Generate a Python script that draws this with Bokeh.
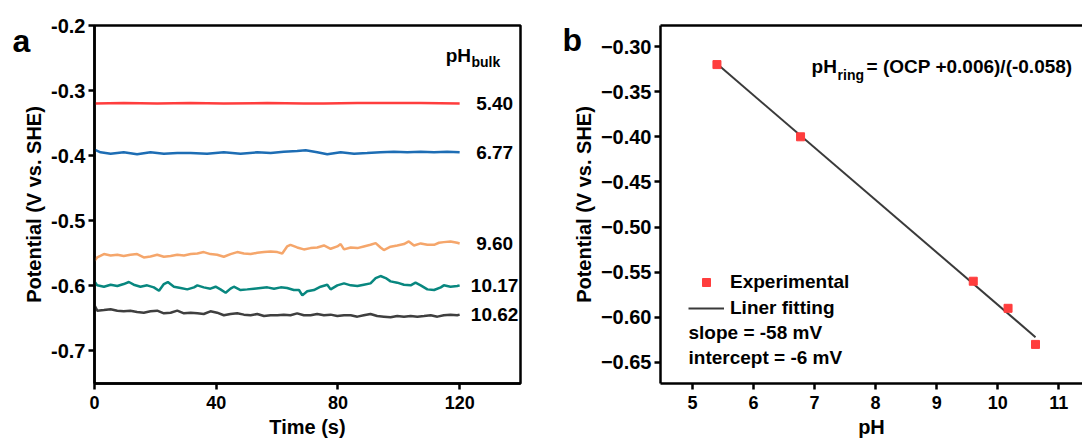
from bokeh.plotting import figure
from bokeh.models import (LinearAxis, FixedTicker, Label, Legend, LegendItem,
                          ColumnDataSource, CustomJSTickFormatter)
from bokeh.layouts import row
from bokeh.core.properties import value
from bokeh.embed import file_html
from bokeh.resources import INLINE

FONT = "Liberation Sans"

# ---------------- Panel a data: OCP vs time ----------------
t_540 = [0.0, 9.6, 20.6, 31.6, 42.5, 56.8, 68.8, 75.4, 86.4, 97.3, 107.2, 120.0]
v_540 = [-0.320, -0.319, -0.320, -0.319, -0.320, -0.319, -0.320, -0.320, -0.319, -0.319, -0.319, -0.320]

t_677 = [0.0, 2.0, 5.3, 9.6, 14.0, 18.4, 22.8, 27.2, 31.6, 37.0, 42.5, 48.0, 53.5, 57.9,
         62.2, 66.6, 69.4, 73.2, 76.5, 80.9, 85.3, 89.6, 94.0, 98.4, 102.8, 107.2, 111.6, 115.9, 120.0]
v_677 = [-0.3907, -0.3948, -0.3969, -0.3948, -0.3979, -0.3948, -0.3969, -0.3959, -0.3959, -0.3969,
         -0.3948, -0.3969, -0.3948, -0.3959, -0.3938, -0.3928, -0.3918, -0.3948, -0.3979, -0.3948,
         -0.3969, -0.3959, -0.3948, -0.3938, -0.3948, -0.3938, -0.3948, -0.3938, -0.3948]

t_960 = [0.0, 0.9, 3.1, 5.3, 7.5, 9.6, 11.8, 14.0, 16.2, 18.4, 20.6, 22.8, 25.0, 27.2, 29.4, 31.6,
         33.8, 35.9, 38.1, 40.3, 42.5, 44.7, 46.9, 49.1, 51.3, 53.5, 55.7, 57.9, 60.1, 61.7, 63.3,
         64.4, 66.6, 68.8, 71.0, 73.2, 75.4, 77.6, 79.8, 80.9, 82.0, 84.2, 86.4, 88.5, 90.7, 92.4,
         94.0, 95.1, 97.3, 99.5, 101.7, 103.3, 105.0, 107.2, 109.4, 111.6, 113.2, 114.8, 117.0,
         119.2, 120.0]
v_960 = [-0.5614, -0.5563, -0.5512, -0.5532, -0.5522, -0.5542, -0.5522, -0.5512, -0.5563, -0.5548,
         -0.5522, -0.5553, -0.5542, -0.5522, -0.5532, -0.5512, -0.5502, -0.5481, -0.5512, -0.5522,
         -0.5553, -0.5512, -0.5481, -0.5502, -0.5512, -0.5491, -0.5481, -0.5471, -0.5481, -0.5502,
         -0.5394, -0.5369, -0.5410, -0.5440, -0.5420, -0.5410, -0.5379, -0.5430, -0.5394, -0.5358,
         -0.5440, -0.5410, -0.5420, -0.5394, -0.5369, -0.5343, -0.5410, -0.5450, -0.5399, -0.5379,
         -0.5358, -0.5317, -0.5379, -0.5348, -0.5369, -0.5369, -0.5338, -0.5328, -0.5317, -0.5338,
         -0.5348]

t_1017 = [0.0, 0.9, 3.1, 5.3, 7.5, 9.6, 11.3, 12.9, 15.1, 17.3, 19.5, 21.2, 22.8, 24.1, 26.1, 28.3,
          30.5, 32.7, 33.8, 35.9, 38.1, 39.8, 41.4, 43.1, 44.7, 45.8, 48.0, 50.2, 52.4, 54.6, 56.8,
          59.0, 61.2, 63.3, 65.5, 67.2, 68.3, 69.9, 72.1, 74.3, 76.5, 77.6, 79.8, 82.0, 84.2, 86.4,
          88.5, 90.7, 92.4, 94.0, 95.7, 97.3, 99.5, 101.7, 103.9, 105.5, 107.2, 109.4, 111.6, 113.8,
          114.8, 117.0, 119.2, 120.0]
v_1017 = [-0.5931, -0.5992, -0.6013, -0.5982, -0.6003, -0.5972, -0.5941, -0.5982, -0.6013, -0.5992,
          -0.6023, -0.6074, -0.5972, -0.5941, -0.6013, -0.6033, -0.6054, -0.6023, -0.5992, -0.6023,
          -0.6043, -0.6013, -0.6054, -0.6105, -0.6043, -0.6013, -0.6064, -0.6054, -0.6043, -0.6033,
          -0.6023, -0.6043, -0.6023, -0.6033, -0.6064, -0.6064, -0.6146, -0.6084, -0.6064, -0.6013,
          -0.5982, -0.6054, -0.5992, -0.5962, -0.5992, -0.6003, -0.5982, -0.5962, -0.5880, -0.5849,
          -0.5880, -0.5931, -0.5951, -0.5982, -0.5992, -0.5951, -0.5992, -0.6054, -0.6064, -0.6023,
          -0.5992, -0.6013, -0.6003, -0.5992]

t_1062 = [0.0, 0.9, 3.1, 5.3, 7.5, 9.6, 11.8, 14.0, 16.2, 18.4, 20.6, 22.8, 25.0, 27.2, 29.4, 31.6,
          33.8, 35.9, 38.1, 40.3, 42.5, 44.7, 46.9, 49.1, 51.3, 53.5, 55.7, 57.9, 60.1, 62.2, 64.4,
          66.6, 68.8, 71.0, 73.2, 75.4, 77.6, 79.8, 82.0, 84.2, 86.4, 88.5, 90.7, 92.9, 95.1, 97.3,
          99.5, 101.7, 103.9, 106.1, 108.3, 110.5, 112.7, 114.8, 117.0, 119.2, 120.0]
v_1062 = [-0.6299, -0.6381, -0.6371, -0.6360, -0.6381, -0.6391, -0.6381, -0.6401, -0.6412, -0.6391,
          -0.6381, -0.6422, -0.6412, -0.6381, -0.6422, -0.6412, -0.6422, -0.6432, -0.6391, -0.6412,
          -0.6452, -0.6432, -0.6422, -0.6442, -0.6452, -0.6432, -0.6463, -0.6452, -0.6452, -0.6442,
          -0.6452, -0.6422, -0.6452, -0.6452, -0.6432, -0.6452, -0.6442, -0.6463, -0.6452, -0.6452,
          -0.6473, -0.6452, -0.6432, -0.6463, -0.6473, -0.6483, -0.6463, -0.6473, -0.6463, -0.6473,
          -0.6463, -0.6452, -0.6473, -0.6452, -0.6442, -0.6452, -0.6442]

ph_bulk_labels = ["5.40", "6.77", "9.60", "10.17", "10.62"]
trace_colors = ["#FF3D3D", "#1D6DB4", "#F5A66B", "#08877F", "#3F3F3F"]

time_ticks = [0, 40, 80, 120]
pot_ticks_a = [-0.2, -0.3, -0.4, -0.5, -0.6, -0.7]

# ---------------- Panel b data: calibration ----------------
ph_values = [5.40, 6.77, 9.60, 10.17, 10.62]
ocp_values = [-0.320, -0.400, -0.560, -0.590, -0.630]
fit_slope = -0.058
fit_intercept = -0.006
fit_x = [5.40, 10.62]
ph_ticks = [5, 6, 7, 8, 9, 10, 11]
pot_ticks_b = [-0.30, -0.35, -0.40, -0.45, -0.50, -0.55, -0.60, -0.65]


def style_axis(ax, tick_size="20px", label_size="20px"):
    ax.axis_line_width = 2.5
    ax.axis_line_color = "black"
    ax.major_tick_line_width = 2.5
    ax.major_tick_line_color = "black"
    ax.major_tick_out = 6
    ax.major_tick_in = 0
    ax.minor_tick_line_color = None
    ax.major_label_text_font = FONT
    ax.major_label_text_font_size = tick_size
    ax.major_label_text_font_style = "bold"
    ax.major_label_text_color = "black"
    ax.major_label_standoff = 3
    ax.axis_label_text_font = FONT
    ax.axis_label_text_font_size = label_size
    ax.axis_label_text_font_style = "bold"
    ax.axis_label_text_color = "black"
    ax.axis_label_standoff = 3


def lab(plot, x, y, text, size, units="data", baseline="middle", place=None):
    lbl = Label(x=x, y=y, x_units=units, y_units=units, text=text,
                text_font=FONT, text_font_size=size,
                text_font_style="bold", text_baseline=baseline, text_color="black")
    if place is None:
        plot.add_layout(lbl)
    else:
        plot.add_layout(lbl, place)


# ================= Panel a =================
pa = figure(width=540, height=441, x_range=(0, 140), y_range=(-0.75, -0.2),
            output_backend="svg", toolbar_location=None,
            min_border_left=94, min_border_right=20, min_border_top=25, min_border_bottom=58)
pa.xgrid.visible = False
pa.ygrid.visible = False
pa.outline_line_color = "black"
pa.outline_line_width = 2.5
pa.background_fill_color = "white"
pa.border_fill_color = "white"

series_a = [(t_540, v_540), (t_677, v_677), (t_960, v_960), (t_1017, v_1017), (t_1062, v_1062)]
for (tt, vv), c in zip(series_a, trace_colors):
    pa.line(tt, vv, line_color=c, line_width=2.5)

end_src = ColumnDataSource(dict(x=[s[0][-1] for s in series_a],
                                y=[s[1][-1] for s in series_a],
                                txt=ph_bulk_labels))
pa.text(x="x", y="y", text="txt", source=end_src, x_offset=35,
        text_align="center", text_baseline="middle",
        text_font=value(FONT), text_font_size="19px", text_font_style="bold", text_color="black")

lab(pa, 115.4, -0.246, "pH", "19px")
lab(pa, 123.9, -0.2567, "bulk", "14px")
# panel letter, placed in the left side panel in canvas pixels so that it is not clipped
lab(pa, 12, 40, "a", "32px", units="canvas", baseline="alphabetic", place="left")

style_axis(pa.xaxis[0], tick_size="18px")
style_axis(pa.yaxis[0])
pa.xaxis.major_label_standoff = 6
pa.xaxis.axis_label_standoff = 4
pa.xaxis.ticker = FixedTicker(ticks=time_ticks)
pa.yaxis.ticker = FixedTicker(ticks=pot_ticks_a)
pa.yaxis.formatter = CustomJSTickFormatter(code="return tick.toFixed(1);")
pa.xaxis.axis_label = "Time (s)"
pa.yaxis.axis_label = "Potential (V vs. SHE)"

# ================= Panel b =================
pb = figure(width=542, height=441, x_range=(4.475, 11.39), y_range=(-0.6733, -0.2767),
            output_backend="svg", toolbar_location=None,
            min_border_left=120, min_border_right=0, min_border_top=25, min_border_bottom=58)
pb.xgrid.visible = False
pb.ygrid.visible = False
pb.outline_line_color = None
pb.background_fill_color = "white"
pb.border_fill_color = "white"

fit_y = [fit_slope * x + fit_intercept for x in fit_x]
r_fit = pb.line(fit_x, fit_y, line_color="#3A3A3A", line_width=2)
r_pts = pb.scatter(ph_values, ocp_values, marker="square", size=8,
                   fill_color="#FF3D3D", line_color="#FF3D3D")

legend = Legend(items=[LegendItem(label="Experimental", renderers=[r_pts]),
                       LegendItem(label="Liner fitting", renderers=[r_fit])],
                location=(28, 64), padding=0, margin=0, spacing=4,
                glyph_width=36, glyph_height=20, label_height=20, label_standoff=6,
                border_line_color=None, background_fill_alpha=0,
                label_text_font=FONT, label_text_font_size="19px",
                label_text_font_style="bold", label_text_color="black")
pb.add_layout(legend)

lab(pb, 4.934, -0.6168, "slope = -58 mV", "19px")
lab(pb, 4.934, -0.6445, "intercept = -6 mV", "19px")
lab(pb, 6.950, -0.3216, "pH", "19px")
lab(pb, 7.377, -0.331, "ring", "14px")
lab(pb, 7.852, -0.3216, "= (OCP +0.006)/(-0.058)", "19px")
lab(pb, 22, 39, "b", "32px", units="canvas", baseline="alphabetic", place="left")

style_axis(pb.xaxis[0], tick_size="18px")
style_axis(pb.yaxis[0])
pb.xaxis.major_label_standoff = 6
pb.xaxis.axis_label_standoff = 4
pb.xaxis.ticker = FixedTicker(ticks=ph_ticks)
pb.yaxis.ticker = FixedTicker(ticks=pot_ticks_b)
pb.yaxis.formatter = CustomJSTickFormatter(
    code="return (tick < 0 ? '\\u2212' : '') + Math.abs(tick).toFixed(2);")
pb.xaxis.axis_label = "pH"
pb.yaxis.axis_label = "Potential (V vs. SHE)"

top_axis = LinearAxis(ticker=FixedTicker(ticks=[]), axis_line_width=2.5, axis_line_color="black",
                      major_tick_line_color=None, minor_tick_line_color=None,
                      major_label_text_font_size="0px")
pb.add_layout(top_axis, "above")

layout = row(pa, pb)
open("out.html", "w").write(file_html(layout, INLINE))
